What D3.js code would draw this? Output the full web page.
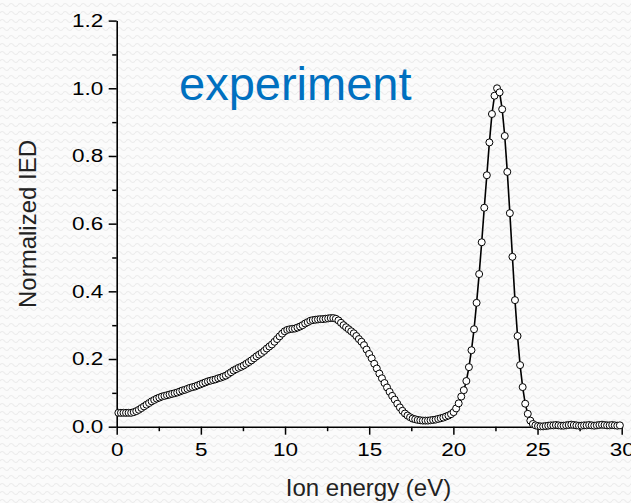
<!DOCTYPE html>
<html>
<head>
<meta charset="utf-8">
<script src="https://cdn.jsdelivr.net/npm/d3@7"></script>
<style>
  body { margin: 0; background: #fafafa; }
  svg { display: block; font-family: "Liberation Sans", Arial, sans-serif; }
</style>
</head>
<body>
<svg id="chart" width="631" height="503"></svg>
<script>
// energy grid of the analyser (eV)
var startEnergy = 0.1;
var energyStep = 0.152;

// normalized IED, one value per energy channel
var ied = [
    0.041, 0.041, 0.041, 0.041, 0.041, 0.041, 0.043, 0.046, 0.050, 0.055,
    0.060, 0.065, 0.070, 0.075, 0.079, 0.083, 0.086, 0.089, 0.091, 0.093,
    0.095, 0.097, 0.099, 0.101, 0.104, 0.107, 0.109, 0.112, 0.115, 0.117,
    0.119, 0.122, 0.125, 0.128, 0.131, 0.134, 0.136, 0.138, 0.140, 0.143,
    0.145, 0.148, 0.151, 0.156, 0.161, 0.166, 0.170, 0.174, 0.177, 0.181,
    0.186, 0.191, 0.196, 0.202, 0.208, 0.213, 0.218, 0.224, 0.231, 0.237,
    0.243, 0.251, 0.259, 0.267, 0.275, 0.282, 0.286, 0.288, 0.289, 0.290,
    0.293, 0.296, 0.300, 0.305, 0.309, 0.313, 0.315, 0.316, 0.317, 0.318,
    0.318, 0.319, 0.320, 0.321, 0.321, 0.319, 0.314, 0.307, 0.300, 0.294,
    0.288, 0.282, 0.276, 0.268, 0.259, 0.251, 0.241, 0.228, 0.215, 0.202,
    0.186, 0.172, 0.157, 0.143, 0.129, 0.116, 0.103, 0.091, 0.080, 0.068,
    0.057, 0.047, 0.039, 0.033, 0.028, 0.024, 0.022, 0.020, 0.019, 0.018,
    0.018, 0.018, 0.019, 0.020, 0.021, 0.023, 0.025, 0.027, 0.030, 0.033,
    0.037, 0.043, 0.054, 0.069, 0.089, 0.108, 0.135, 0.176, 0.226, 0.288,
    0.366, 0.451, 0.545, 0.647, 0.743, 0.840, 0.924, 0.978, 1.000, 0.988,
    0.938, 0.859, 0.753, 0.631, 0.502, 0.374, 0.268, 0.182, 0.117, 0.068,
    0.038, 0.018, 0.008, 0.004, 0.002, 0.001, 0.001, 0.002, 0.003, 0.004,
    0.004, 0.005, 0.004, 0.003, 0.003, 0.004, 0.005, 0.006, 0.005, 0.004,
    0.003, 0.003, 0.004, 0.004, 0.005, 0.004, 0.003, 0.004, 0.005, 0.006,
    0.005, 0.004, 0.004, 0.005, 0.004, 0.003, 0.004
];

var xTicks = [0, 5, 10, 15, 20, 25, 30];
var xMinorTicks = [2.5, 7.5, 12.5, 17.5, 22.5, 27.5];
var yTicks = [0, 0.2, 0.4, 0.6, 0.8, 1.0, 1.2];
var yMinorTicks = [0.1, 0.3, 0.5, 0.7, 0.9, 1.1];

var points = ied.map((v, i) => ({ e: startEnergy + i * energyStep, v: v }));

var svg = d3.select("#chart");

// faint wavy backdrop
var defs = svg.append("defs");
var pat = defs.append("pattern")
    .attr("id", "waves")
    .attr("width", 9)
    .attr("height", 8)
    .attr("patternUnits", "userSpaceOnUse");
pat.append("rect").attr("width", 9).attr("height", 8).attr("fill", "#fbfbfb");
pat.append("path")
    .attr("d", "M0,5 Q2.25,2 4.5,5 T9,5")
    .attr("fill", "none")
    .attr("stroke", "#ececec")
    .attr("stroke-width", 1.2);
svg.append("rect").attr("width", 631).attr("height", 503).attr("fill", "url(#waves)");

var x = d3.scaleLinear().domain([0, 30]).range([116.7, 621.7]);
var y = d3.scaleLinear().domain([0, 1.2]).range([426.7, 20.6]);

var stretch = 1.25;  // tick labels look horizontally stretched in the reference

// minor ticks first
svg.append("g")
    .attr("transform", "translate(0," + y(0) + ")")
    .call(d3.axisBottom(x).tickValues(xMinorTicks).tickSize(4.5).tickFormat(""))
    .call(g => g.select(".domain").remove())
    .selectAll("line").attr("stroke", "#000").attr("stroke-width", 1.5);
svg.append("g")
    .attr("transform", "translate(" + x(0) + ",0)")
    .call(d3.axisLeft(y).tickValues(yMinorTicks).tickSize(4.5).tickFormat(""))
    .call(g => g.select(".domain").remove())
    .selectAll("line").attr("stroke", "#000").attr("stroke-width", 1.5);

var xAxis = svg.append("g")
    .attr("transform", "translate(0," + y(0) + ")")
    .call(d3.axisBottom(x).tickValues(xTicks).tickSize(8).tickSizeOuter(0).tickPadding(8.6).tickFormat(d3.format("d")));
xAxis.select(".domain").attr("stroke", "#000").attr("stroke-width", 1.6);
xAxis.selectAll("line").attr("stroke", "#000").attr("stroke-width", 1.5);
xAxis.selectAll("text")
    .attr("font-size", 18)
    .attr("font-family", "Liberation Sans, Arial, sans-serif")
    .attr("fill", "#000")
    .attr("transform", "scale(" + stretch + ",1)");

var yAxis = svg.append("g")
    .attr("transform", "translate(" + x(0) + ",0)")
    .call(d3.axisLeft(y).tickValues(yTicks).tickSize(8).tickSizeOuter(0).tickFormat(d3.format(".1f")));
yAxis.select(".domain").attr("stroke", "#000").attr("stroke-width", 1.6);
yAxis.selectAll("line").attr("stroke", "#000").attr("stroke-width", 1.5);
yAxis.selectAll("text")
    .attr("font-size", 18)
    .attr("font-family", "Liberation Sans, Arial, sans-serif")
    .attr("fill", "#000")
    .attr("x", -13.4 / stretch)
    .attr("transform", "scale(" + stretch + ",1)");

// curve
var line = d3.line().x(d => x(d.e)).y(d => y(d.v));
svg.append("path")
    .datum(points)
    .attr("d", line)
    .attr("fill", "none")
    .attr("stroke", "#000")
    .attr("stroke-width", 1.6);

svg.append("g").selectAll("circle")
    .data(points)
    .enter().append("circle")
    .attr("cx", d => x(d.e))
    .attr("cy", d => y(d.v))
    .attr("r", 3.5)
    .attr("fill", "#fff")
    .attr("stroke", "#000")
    .attr("stroke-width", 1);

// labels
svg.append("text")
    .attr("x", 179)
    .attr("y", 100)
    .attr("font-size", 47)
    .attr("fill", "#0070c0")
    .text("experiment");

svg.append("text")
    .attr("x", 368.5)
    .attr("y", 496)
    .attr("text-anchor", "middle")
    .attr("font-size", 24)
    .attr("fill", "#222")
    .text("Ion energy (eV)");

svg.append("text")
    .attr("transform", "translate(36,224) rotate(-90)")
    .attr("text-anchor", "middle")
    .attr("font-size", 24)
    .attr("fill", "#222")
    .text("Normalized IED");
</script>
</body>
</html>
